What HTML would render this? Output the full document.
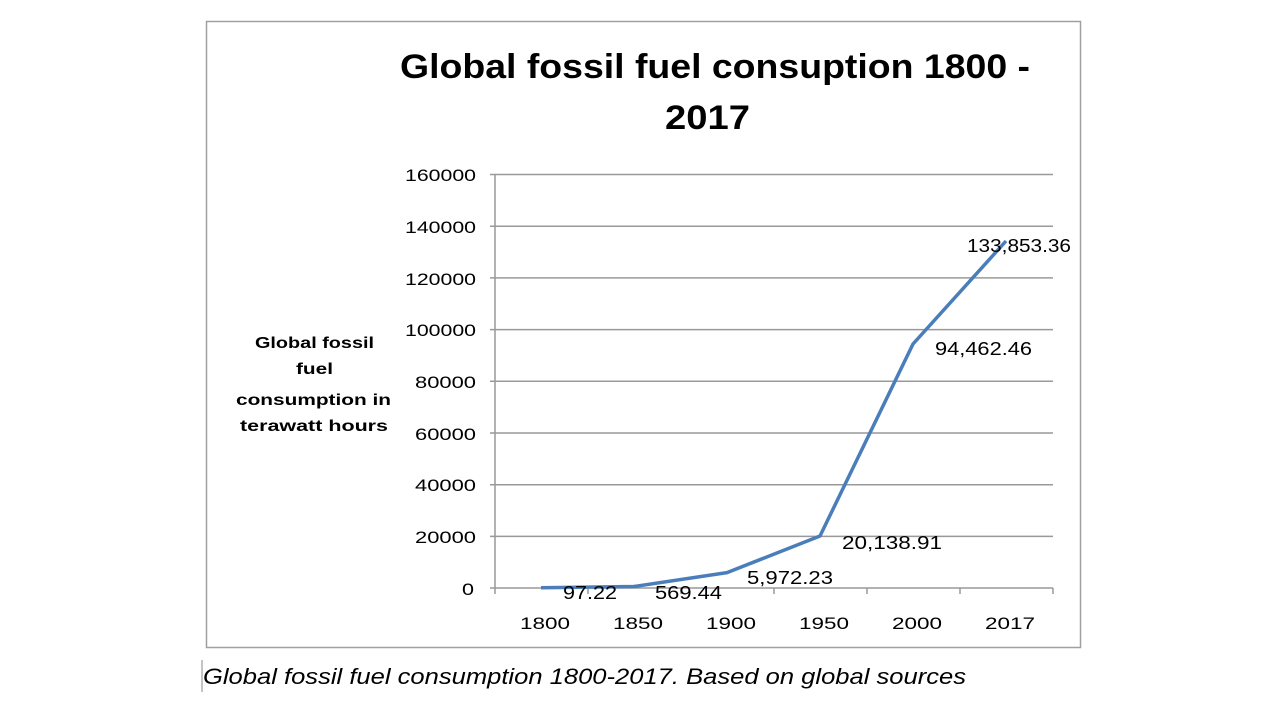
<!DOCTYPE html>
<html><head><meta charset="utf-8"><style>
html,body{margin:0;padding:0;background:#fff;}
svg{display:block;}
text{font-family:"Liberation Sans",Arial,sans-serif;}
</style></head><body>
<svg width="1280" height="720" viewBox="0 0 1280 720" xmlns="http://www.w3.org/2000/svg">
<rect x="206.5" y="21.5" width="874" height="626" fill="#fff" stroke="#a0a0a0" stroke-width="1.5"/>
<text x="400" y="78" font-size="34" font-weight="bold" fill="#000" textLength="630" lengthAdjust="spacingAndGlyphs">Global fossil fuel consuption 1800 -</text>
<text x="665" y="129" font-size="34" font-weight="bold" fill="#000" textLength="85" lengthAdjust="spacingAndGlyphs">2017</text>
<g stroke="#999" stroke-width="1.5">
<line x1="490" y1="174.5" x2="1053" y2="174.5"/>
<line x1="490" y1="226.2" x2="1053" y2="226.2"/>
<line x1="490" y1="277.9" x2="1053" y2="277.9"/>
<line x1="490" y1="329.6" x2="1053" y2="329.6"/>
<line x1="490" y1="381.3" x2="1053" y2="381.3"/>
<line x1="490" y1="433" x2="1053" y2="433"/>
<line x1="490" y1="484.7" x2="1053" y2="484.7"/>
<line x1="490" y1="536.4" x2="1053" y2="536.4"/>
<line x1="490" y1="588" x2="1053" y2="588"/>
<line x1="495" y1="174.5" x2="495" y2="594"/>
<line x1="588" y1="588" x2="588" y2="594"/>
<line x1="681" y1="588" x2="681" y2="594"/>
<line x1="774" y1="588" x2="774" y2="594"/>
<line x1="867" y1="588" x2="867" y2="594"/>
<line x1="960" y1="588" x2="960" y2="594"/>
<line x1="1053" y1="588" x2="1053" y2="594"/>
</g>
<g font-size="17" fill="#000">
<text x="405" y="181" textLength="71" lengthAdjust="spacingAndGlyphs">160000</text>
<text x="405" y="233" textLength="71" lengthAdjust="spacingAndGlyphs">140000</text>
<text x="405" y="285" textLength="71" lengthAdjust="spacingAndGlyphs">120000</text>
<text x="405" y="336" textLength="71" lengthAdjust="spacingAndGlyphs">100000</text>
<text x="415" y="388" textLength="61" lengthAdjust="spacingAndGlyphs">80000</text>
<text x="415" y="440" textLength="61" lengthAdjust="spacingAndGlyphs">60000</text>
<text x="415" y="491" textLength="61" lengthAdjust="spacingAndGlyphs">40000</text>
<text x="415" y="543" textLength="61" lengthAdjust="spacingAndGlyphs">20000</text>
<text x="462" y="595" textLength="12" lengthAdjust="spacingAndGlyphs">0</text>
</g>
<g font-size="17" fill="#000">
<text x="520" y="629" textLength="50" lengthAdjust="spacingAndGlyphs">1800</text>
<text x="613" y="629" textLength="50" lengthAdjust="spacingAndGlyphs">1850</text>
<text x="706" y="629" textLength="50" lengthAdjust="spacingAndGlyphs">1900</text>
<text x="799" y="629" textLength="50" lengthAdjust="spacingAndGlyphs">1950</text>
<text x="892" y="629" textLength="50" lengthAdjust="spacingAndGlyphs">2000</text>
<text x="985" y="629" textLength="50" lengthAdjust="spacingAndGlyphs">2017</text>
</g>
<g font-size="16" font-weight="bold" fill="#000">
<text x="255" y="348" textLength="119" lengthAdjust="spacingAndGlyphs">Global fossil</text>
<text x="296" y="374" textLength="37" lengthAdjust="spacingAndGlyphs">fuel</text>
<text x="236" y="405" textLength="155" lengthAdjust="spacingAndGlyphs">consumption in</text>
<text x="240" y="431" textLength="148" lengthAdjust="spacingAndGlyphs">terawatt hours</text>
</g>
<polyline points="541,587.7 634,586.5 727,572.6 820,536 913,344 1006,241" fill="none" stroke="#4a7ebb" stroke-width="3.5" stroke-linejoin="round"/>
<g font-size="18" fill="#000">
<text x="563" y="599" textLength="54" lengthAdjust="spacingAndGlyphs">97.22</text>
<text x="655" y="599" textLength="67" lengthAdjust="spacingAndGlyphs">569.44</text>
<text x="747" y="584" textLength="86" lengthAdjust="spacingAndGlyphs">5,972.23</text>
<text x="842" y="549" textLength="100" lengthAdjust="spacingAndGlyphs">20,138.91</text>
<text x="935" y="355" textLength="97" lengthAdjust="spacingAndGlyphs">94,462.46</text>
<text x="967" y="252" textLength="104" lengthAdjust="spacingAndGlyphs">133,853.36</text>
</g>
<line x1="202" y1="660" x2="202" y2="692" stroke="#888" stroke-width="1"/>
<text x="203" y="684" font-size="22" font-style="italic" fill="#000" textLength="763" lengthAdjust="spacingAndGlyphs">Global fossil fuel consumption 1800-2017. Based on global sources</text>
</svg>
</body></html>
